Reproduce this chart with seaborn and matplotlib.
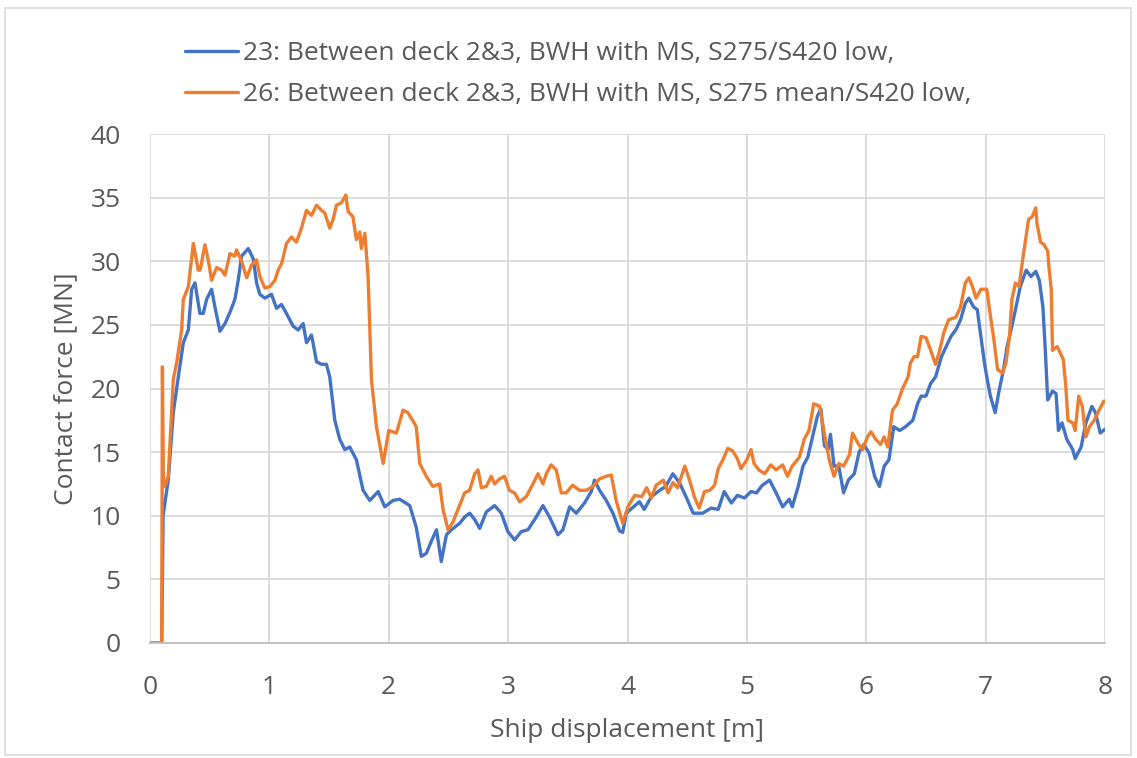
import numpy as np
import pandas as pd
import matplotlib
matplotlib.use("Agg")
import matplotlib.pyplot as plt
import seaborn as sns
from matplotlib.lines import Line2D
from matplotlib.patches import Rectangle

# ---- data ----
labels = ["23: Between deck 2&3, BWH with MS, S275/S420 low,",
          "26: Between deck 2&3, BWH with MS, S275 mean/S420 low,"]

blue_x = [0.0, 0.098, 0.11, 0.126, 0.153, 0.195, 0.237, 0.279, 0.321, 0.349, 0.377, 0.418, 0.446, 0.474,
          0.516, 0.544, 0.586, 0.628, 0.670, 0.711, 0.739, 0.767, 0.823, 0.865, 0.893, 0.920, 0.962, 1.018,
          1.060, 1.102, 1.143, 1.199, 1.241, 1.283, 1.311, 1.353, 1.395, 1.437, 1.478, 1.506, 1.548, 1.590,
          1.632, 1.673, 1.729, 1.785, 1.841, 1.911, 1.967, 2.036, 2.092, 2.176, 2.23, 2.273, 2.315, 2.357,
          2.40, 2.44, 2.483, 2.525, 2.594, 2.636, 2.678, 2.72, 2.762, 2.817, 2.887, 2.943, 2.998, 3.054,
          3.11, 3.166, 3.222, 3.292, 3.347, 3.417, 3.459, 3.515, 3.571, 3.64, 3.696, 3.724, 3.766, 3.822,
          3.878, 3.933, 3.96, 3.99, 4.05, 4.10, 4.14, 4.20, 4.27, 4.32, 4.38, 4.435, 4.49, 4.55, 4.63, 4.70,
          4.76, 4.81, 4.87, 4.92, 4.98, 5.035, 5.08, 5.13, 5.19, 5.245, 5.30, 5.355, 5.38, 5.43, 5.47, 5.51,
          5.55, 5.59, 5.62, 5.65, 5.68, 5.70, 5.73, 5.77, 5.81, 5.85, 5.90, 5.94, 5.98, 6.025, 6.07, 6.11,
          6.15, 6.19, 6.23, 6.28, 6.33, 6.39, 6.43, 6.46, 6.50, 6.54, 6.58, 6.63, 6.67, 6.71, 6.75, 6.79,
          6.83, 6.86, 6.90, 6.93, 6.96, 6.99, 7.01, 7.04, 7.08, 7.11, 7.15, 7.18, 7.22, 7.25, 7.29, 7.34,
          7.38, 7.42, 7.45, 7.48, 7.50, 7.52, 7.56, 7.59, 7.61, 7.64, 7.68, 7.73, 7.75, 7.80, 7.84, 7.89,
          7.92, 7.96, 8.0]
blue_y = [0, 0, 10.0, 11.1, 12.8, 18.1, 20.9, 23.6, 24.6, 27.8, 28.3, 25.9, 25.9, 27.0,
          27.8, 26.4, 24.5, 25.1, 26.0, 27.0, 28.5, 30.4, 31.0, 30.2, 28.3, 27.4, 27.1, 27.4,
          26.3, 26.6, 25.9, 24.9, 24.6, 25.1, 23.6, 24.2, 22.1, 21.9, 21.9, 20.9, 17.5, 16.0,
          15.2, 15.4, 14.4, 12.0, 11.2, 11.9, 10.7, 11.2, 11.3, 10.8, 9.1, 6.8, 7.05, 8.0,
          8.9, 6.4, 8.5, 8.9, 9.4, 9.9, 10.2, 9.7, 9.0, 10.3, 10.8, 10.2, 8.75, 8.1,
          8.75, 8.9, 9.7, 10.8, 9.9, 8.5, 8.9, 10.7, 10.2, 11.0, 11.9, 12.8, 12.0, 11.2,
          10.2, 8.8, 8.7, 10.2, 10.7, 11.1, 10.5, 11.5, 12.0, 12.3, 13.3, 12.6, 11.5, 10.2, 10.2, 10.6,
          10.5, 11.9, 11.0, 11.6, 11.4, 11.9, 11.8, 12.4, 12.8, 11.8, 10.7, 11.3, 10.7, 12.3, 13.9, 14.6,
          16.2, 17.8, 18.4, 15.5, 15.2, 16.4, 13.9, 13.9, 11.8, 12.8, 13.3, 15.0, 15.6, 14.9, 13.1, 12.3,
          13.9, 14.4, 17.0, 16.7, 17.0, 17.5, 18.8, 19.4, 19.4, 20.4, 20.9, 22.5, 23.3, 24.1, 24.6, 25.4,
          26.7, 27.1, 26.4, 26.2, 24.1, 22.0, 20.9, 19.4, 18.1, 19.7, 21.5, 23.3, 24.9, 26.2, 28.0, 29.3,
          28.8, 29.2, 28.5, 26.4, 23.0, 19.1, 19.8, 19.6, 16.7, 17.3, 16.0, 15.2, 14.5, 15.4, 17.3, 18.6,
          18.1, 16.5, 16.8]

orange_x = [0.0, 0.098, 0.104, 0.112, 0.126, 0.153, 0.195, 0.223, 0.265, 0.279, 0.321, 0.363, 0.404, 0.42,
            0.46, 0.488, 0.516, 0.558, 0.6, 0.628, 0.670, 0.711, 0.725, 0.767, 0.81, 0.851, 0.893, 0.92,
            0.962, 1.004, 1.046, 1.074, 1.102, 1.143, 1.185, 1.227, 1.269, 1.311, 1.353, 1.395, 1.437, 1.464,
            1.506, 1.534, 1.562, 1.604, 1.64, 1.66, 1.70, 1.729, 1.757, 1.77, 1.80, 1.827, 1.855, 1.897,
            1.953, 2.0, 2.064, 2.12, 2.16, 2.20, 2.23, 2.26, 2.315, 2.37, 2.426, 2.455, 2.496, 2.538, 2.58,
            2.636, 2.678, 2.72, 2.748, 2.776, 2.817, 2.859, 2.887, 2.929, 2.97, 3.01, 3.054, 3.096, 3.152,
            3.208, 3.25, 3.292, 3.32, 3.36, 3.403, 3.445, 3.487, 3.54, 3.598, 3.654, 3.71, 3.766, 3.822,
            3.864, 3.905, 3.96, 4.003, 4.06, 4.12, 4.16, 4.20, 4.24, 4.30, 4.34, 4.38, 4.42, 4.48, 4.52,
            4.56, 4.60, 4.645, 4.69, 4.73, 4.76, 4.80, 4.84, 4.88, 4.92, 4.95, 5.00, 5.035, 5.06, 5.10,
            5.15, 5.20, 5.245, 5.30, 5.34, 5.38, 5.44, 5.48, 5.52, 5.56, 5.61, 5.65, 5.69, 5.73, 5.77,
            5.81, 5.86, 5.885, 5.93, 5.97, 6.01, 6.04, 6.08, 6.12, 6.15, 6.18, 6.22, 6.26, 6.30, 6.35,
            6.37, 6.40, 6.43, 6.46, 6.50, 6.54, 6.58, 6.61, 6.65, 6.69, 6.75, 6.79, 6.83, 6.86, 6.89,
            6.92, 6.96, 7.01, 7.04, 7.07, 7.10, 7.14, 7.17, 7.20, 7.22, 7.25, 7.28, 7.31, 7.36, 7.39,
            7.42, 7.43, 7.46, 7.49, 7.52, 7.53, 7.55, 7.56, 7.60, 7.65, 7.67, 7.69, 7.73, 7.75, 7.78,
            7.81, 7.84, 7.87, 7.91, 7.95, 7.99, 8.0]
orange_y = [0, 0, 21.7, 13.0, 12.3, 13.1, 20.7, 22.0, 24.6, 27.0, 28.0, 31.4, 29.3, 29.3,
            31.3, 30.1, 28.5, 29.5, 29.3, 28.9, 30.6, 30.4, 30.9, 30.0, 28.7, 29.7, 30.1, 28.8,
            27.9, 28.0, 28.5, 29.3, 29.8, 31.4, 31.9, 31.5, 32.6, 34.0, 33.6, 34.4, 34.0, 33.8,
            32.6, 33.3, 34.4, 34.6, 35.2, 33.9, 33.5, 31.7, 32.3, 31.0, 32.2, 28.8, 20.7, 17.0,
            14.1, 16.7, 16.5, 18.3, 18.1, 17.5, 17.0, 14.1, 13.1, 12.3, 12.5, 10.5, 8.9, 9.5, 10.5,
            11.8, 12.0, 13.3, 13.6, 12.2, 12.3, 13.1, 12.5, 12.9, 13.1, 12.0, 11.8, 11.1, 11.5,
            12.5, 13.3, 12.5, 13.3, 14.0, 13.6, 11.8, 11.8, 12.4, 12.0, 12.0, 12.3, 12.9, 13.1,
            13.2, 11.2, 9.4, 10.7, 11.6, 11.5, 12.2, 11.4, 12.4, 12.8, 11.8, 12.6, 12.2, 13.9, 12.8,
            11.5, 10.6, 11.9, 12.0, 12.4, 13.7, 14.4, 15.3, 15.1, 14.5, 13.7, 14.4, 15.2, 14.1, 13.6,
            13.3, 14.0, 13.6, 14.0, 13.1, 13.9, 14.6, 16.0, 16.7, 18.8, 18.6, 16.4, 14.4, 13.1, 14.1,
            13.9, 14.8, 16.5, 15.7, 15.2, 16.2, 16.6, 16.0, 15.6, 16.2, 15.4, 18.3, 18.8, 19.9, 20.9,
            22.0, 22.5, 22.5, 24.1, 24.0, 23.0, 21.9, 22.8, 24.4, 25.4, 25.6, 26.4, 28.3, 28.7, 28.0,
            27.1, 27.8, 27.8, 25.7, 23.8, 21.5, 21.2, 22.0, 24.1, 27.0, 28.3, 28.0, 30.1, 33.3, 33.5,
            34.2, 33.0, 31.5, 31.3, 30.8, 29.6, 27.8, 23.0, 23.3, 22.3, 20.4, 17.5, 17.3, 16.7, 19.4,
            18.6, 16.2, 17.0, 17.5, 18.3, 19.0, 19.0]

x_ticks = [0, 1, 2, 3, 4, 5, 6, 7, 8]
y_ticks = [0, 5, 10, 15, 20, 25, 30, 35, 40]
x_label = "Ship displacement [m]"
y_label = "Contact force [MN]"

colors = ["#4472C4", "#ED7D31"]

df = pd.concat([
    pd.DataFrame({"x": blue_x, "y": blue_y, "series": labels[0]}),
    pd.DataFrame({"x": orange_x, "y": orange_y, "series": labels[1]}),
], ignore_index=True)

sns.set_theme(style="white")
plt.rcParams['font.family'] = ['Open Sans', 'DejaVu Sans']
txt = "#595959"
fs = 19

fig = plt.figure(figsize=(11.37, 7.58), dpi=100)
ax = fig.add_axes([150/1137, 1-643/758, (1105-150)/1137, (643-134)/758])

sns.lineplot(data=df, x="x", y="y", hue="series", palette=colors, sort=False,
             estimator=None, linewidth=2.4, ax=ax, legend=False)

ax.set_xlim(0, 8)
ax.set_ylim(0, 40)
ax.set_xticks(x_ticks)
ax.set_yticks(y_ticks)
ax.grid(True, color="#D9D9D9", linewidth=1.3)
ax.set_axisbelow(True)
for s in ["top", "right", "left"]:
    ax.spines[s].set_visible(False)
ax.spines["bottom"].set_color("#BFBFBF")
ax.spines["bottom"].set_linewidth(1.3)
ax.tick_params(axis="both", length=0, labelsize=fs, labelcolor=txt)
ax.tick_params(axis="y", pad=21)
ax.tick_params(axis="x", pad=23)
ax.set_xlabel(x_label, fontsize=fs, color=txt)
ax.set_ylabel(y_label, fontsize=fs, color=txt)
ax.xaxis.set_label_coords(0.5, -(718 - 643) / 509)
ax.yaxis.set_label_coords(-(150 - 78) / 955, 0.5)

handles = [Line2D([0], [0], color=c, linewidth=2.4) for c in colors]
fig.legend(handles, labels, loc="upper left", bbox_to_anchor=(185/1137, 1-41/758),
           frameon=False, fontsize=fs, handlelength=2.0, handletextpad=0.2,
           labelspacing=0.62, borderpad=0, borderaxespad=0, labelcolor=txt)

fig.patches.append(Rectangle((5/1137, 3/758), 1126/1137, 747/758, transform=fig.transFigure,
                             fill=False, edgecolor="#D9D9D9", linewidth=1.2))

fig.savefig("out.png", dpi=100, facecolor="white")
